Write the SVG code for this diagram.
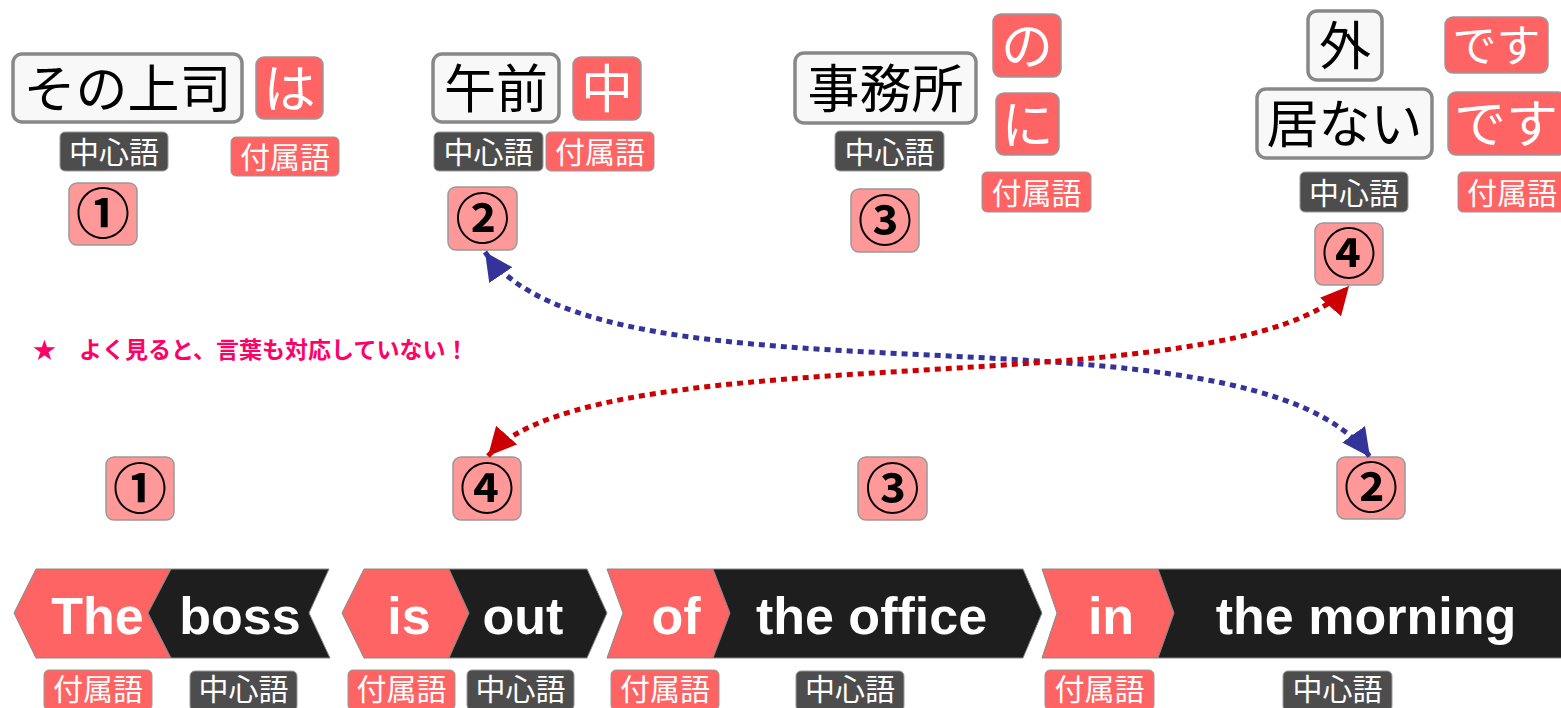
<svg xmlns="http://www.w3.org/2000/svg" width="1561" height="708" viewBox="0 0 1561 708">
<defs>
<style>
.jp{font-family:"Noto Sans CJK JP","Noto Sans",sans-serif;}
.box{fill:#f8f8f8;stroke:#888;stroke-width:3.5;}
.big{font-size:52px;fill:#000;text-anchor:middle;}
.rbox{fill:#ff6464;stroke:#999;stroke-width:1.5;}
.rtxt{font-size:52px;fill:#fff;text-anchor:middle;}
.lab-d{fill:#4d4d4d;stroke:#999;stroke-width:1;}
.lab-r{fill:#ff6464;stroke:#999;stroke-width:1;}
.lt{font-size:30px;fill:#fff;text-anchor:middle;}
.badge{fill:#ff9999;stroke:#999;stroke-width:1.5;}
.num{font-size:54px;font-weight:bold;fill:#000;text-anchor:middle;}
.seg-r{fill:#ff6464;stroke:#888;stroke-width:1;}
.seg-k{fill:#1e1e1e;stroke:#888;stroke-width:1;}
.en{font-family:"Liberation Sans",Arial,sans-serif;font-weight:bold;font-size:52px;fill:#fff;text-anchor:middle;}
.blue{fill:none;stroke:#333399;stroke-width:5;stroke-dasharray:6 5;}
.red{fill:none;stroke:#cc0000;stroke-width:5;stroke-dasharray:6 5;}
</style>
<marker id="ab" viewBox="0 0 28 28" refX="28" refY="14" markerWidth="28" markerHeight="28" markerUnits="userSpaceOnUse" orient="auto-start-reverse"><path d="M0,0 L28,14 L0,28 Z" fill="#333399"/></marker>
<marker id="ar" viewBox="0 0 28 28" refX="28" refY="14" markerWidth="28" markerHeight="28" markerUnits="userSpaceOnUse" orient="auto-start-reverse"><path d="M0,0 L28,14 L0,28 Z" fill="#cc0000"/></marker>
</defs>
<rect width="1561" height="708" fill="#fff"/>

<g id="jp1" class="jp">
<rect class="box" x="13" y="54" width="229" height="68" rx="9"/>
<text class="big" x="127.5" y="107.5">その上司</text>
<rect class="rbox" x="256" y="57" width="67" height="62" rx="8"/>
<text class="rtxt" x="289.5" y="107.5">は</text>
<rect class="lab-d" x="60" y="132" width="108" height="39" rx="5"/>
<text class="lt" x="114" y="163">中心語</text>
<rect class="lab-r" x="231" y="137" width="108" height="39" rx="5"/>
<text class="lt" x="285" y="168">付属語</text>
<rect class="badge" x="69" y="183" width="68" height="62" rx="8"/>
<text class="num" x="103" y="234">①</text>
</g>

<g id="jp2" class="jp">
<rect class="box" x="433" y="54" width="126" height="68" rx="9"/>
<text class="big" x="496" y="107.5">午前</text>
<rect class="rbox" x="573" y="57" width="68" height="63" rx="8"/>
<text class="rtxt" x="607" y="107.5">中</text>
<rect class="lab-d" x="434" y="132" width="109" height="39" rx="5"/>
<text class="lt" x="488.5" y="163">中心語</text>
<rect class="lab-r" x="546" y="132" width="108" height="39" rx="5"/>
<text class="lt" x="600" y="163">付属語</text>
<rect class="badge" x="448" y="187" width="69" height="63" rx="8"/>
<text class="num" x="482.5" y="238.5">②</text>
</g>

<g id="jp3" class="jp">
<rect class="box" x="795" y="53" width="181" height="70" rx="9"/>
<text class="big" x="885.5" y="107.5">事務所</text>
<rect class="rbox" x="993" y="14" width="68" height="63" rx="8"/>
<text class="rtxt" x="1027" y="65">の</text>
<rect class="rbox" x="996" y="93" width="63" height="62" rx="8"/>
<text class="rtxt" x="1027.5" y="143.5">に</text>
<rect class="lab-d" x="835" y="131" width="109" height="40" rx="5"/>
<text class="lt" x="889.5" y="162.5">中心語</text>
<rect class="lab-r" x="982" y="172" width="109" height="40" rx="5"/>
<text class="lt" x="1036.5" y="203.5">付属語</text>
<rect class="badge" x="851" y="189" width="68" height="63" rx="8"/>
<text class="num" x="885" y="240.5">③</text>
</g>

<g id="jp4" class="jp">
<rect class="box" x="1308" y="11" width="74" height="69" rx="9"/>
<text class="big" x="1345" y="65">外</text>
<rect class="rbox" x="1445" y="17" width="103" height="56" rx="8"/>
<text class="rtxt" x="1496.5" y="61.5" style="font-size:44px">です</text>
<rect class="box" x="1257" y="89" width="175" height="69" rx="9"/>
<text class="big" x="1344.5" y="143">居ない</text>
<rect class="rbox" x="1448" y="92" width="118" height="63" rx="8"/>
<text class="rtxt" x="1506" y="143">です</text>
<rect class="lab-d" x="1300" y="172" width="108" height="40" rx="5"/>
<text class="lt" x="1354" y="203.5">中心語</text>
<rect class="lab-r" x="1458" y="172" width="108" height="40" rx="5"/>
<text class="lt" x="1512" y="203.5">付属語</text>
<rect class="badge" x="1315" y="223" width="68" height="62" rx="8"/>
<text class="num" x="1349" y="274">④</text>
</g>

<g id="note" class="jp">
<text x="33" y="358" style="font-size:23px;font-weight:bold;fill:#ff0066">★　よく見ると、言葉も対応していない！</text>
</g>

<g id="bottom-badges" class="jp">
<rect class="badge" x="106" y="457" width="68" height="63" rx="8"/>
<text class="num" x="140" y="508.5">①</text>
<rect class="badge" x="453" y="457" width="68" height="63" rx="8"/>
<text class="num" x="487" y="508.5">④</text>
<rect class="badge" x="858" y="457" width="69" height="63" rx="8"/>
<text class="num" x="892.5" y="508.5">③</text>
<rect class="badge" x="1337" y="457" width="68" height="62" rx="8"/>
<text class="num" x="1371" y="508">②</text>
</g>

<g id="en-the-boss">
<path class="seg-r" d="M36,569 L171,569 L148,613 L171,658 L36,658 L14,613 Z"/>
<path class="seg-k" d="M171,569 L329,569 L309,613 L330,658 L171,658 L148,613 Z"/>
<text class="en" x="97.5" y="634">The</text>
<text class="en" x="240" y="634">boss</text>
</g>
<g id="en-is-out">
<path class="seg-r" d="M364,569 L449,569 L469,613 L449,658 L364,658 L342,613 Z"/>
<path class="seg-k" d="M449,569 L587,569 L607,613 L587,658 L449,658 L469,613 Z"/>
<text class="en" x="409" y="634">is</text>
<text class="en" x="523" y="634">out</text>
</g>
<g id="en-of-office">
<path class="seg-r" d="M607,569 L713,569 L730,613 L713,658 L607,658 L623,613 Z"/>
<path class="seg-k" d="M713,569 L1023,569 L1042,613 L1023,658 L713,658 L730,613 Z"/>
<text class="en" x="676" y="634">of</text>
<text class="en" x="871.5" y="634">the office</text>
</g>
<g id="en-in-morning">
<path class="seg-r" d="M1042,569 L1158,569 L1174,613 L1158,658 L1042,658 L1057,613 Z"/>
<path class="seg-k" d="M1158,569 L1565,569 L1565,658 L1158,658 L1174,613 Z"/>
<text class="en" x="1111" y="634">in</text>
<text class="en" x="1366" y="634">the morning</text>
</g>

<g id="en-labels" class="jp">
<rect class="lab-r" x="44" y="670" width="108" height="40" rx="5"/>
<text class="lt" x="98" y="700">付属語</text>
<rect class="lab-d" x="190" y="671" width="107" height="40" rx="5"/>
<text class="lt" x="243.5" y="700">中心語</text>
<rect class="lab-r" x="348" y="670" width="107" height="40" rx="5"/>
<text class="lt" x="401.5" y="700">付属語</text>
<rect class="lab-d" x="467" y="670" width="107" height="40" rx="5"/>
<text class="lt" x="520.5" y="700">中心語</text>
<rect class="lab-r" x="611" y="670" width="108" height="40" rx="5"/>
<text class="lt" x="665" y="700">付属語</text>
<rect class="lab-d" x="796" y="671" width="108" height="40" rx="5"/>
<text class="lt" x="850" y="700">中心語</text>
<rect class="lab-r" x="1045" y="670" width="109" height="40" rx="5"/>
<text class="lt" x="1099.5" y="700">付属語</text>
<rect class="lab-d" x="1283" y="671" width="109" height="40" rx="5"/>
<text class="lt" x="1337.5" y="700">中心語</text>
</g>

<g id="connectors">
<path class="blue" d="M485,252 C600,420 1250,290 1370,457" marker-start="url(#ab)" marker-end="url(#ab)"/>
<path class="red" d="M488,456 C600,330 1240,410 1349,286" marker-start="url(#ar)" marker-end="url(#ar)"/>
</g>
</svg>
